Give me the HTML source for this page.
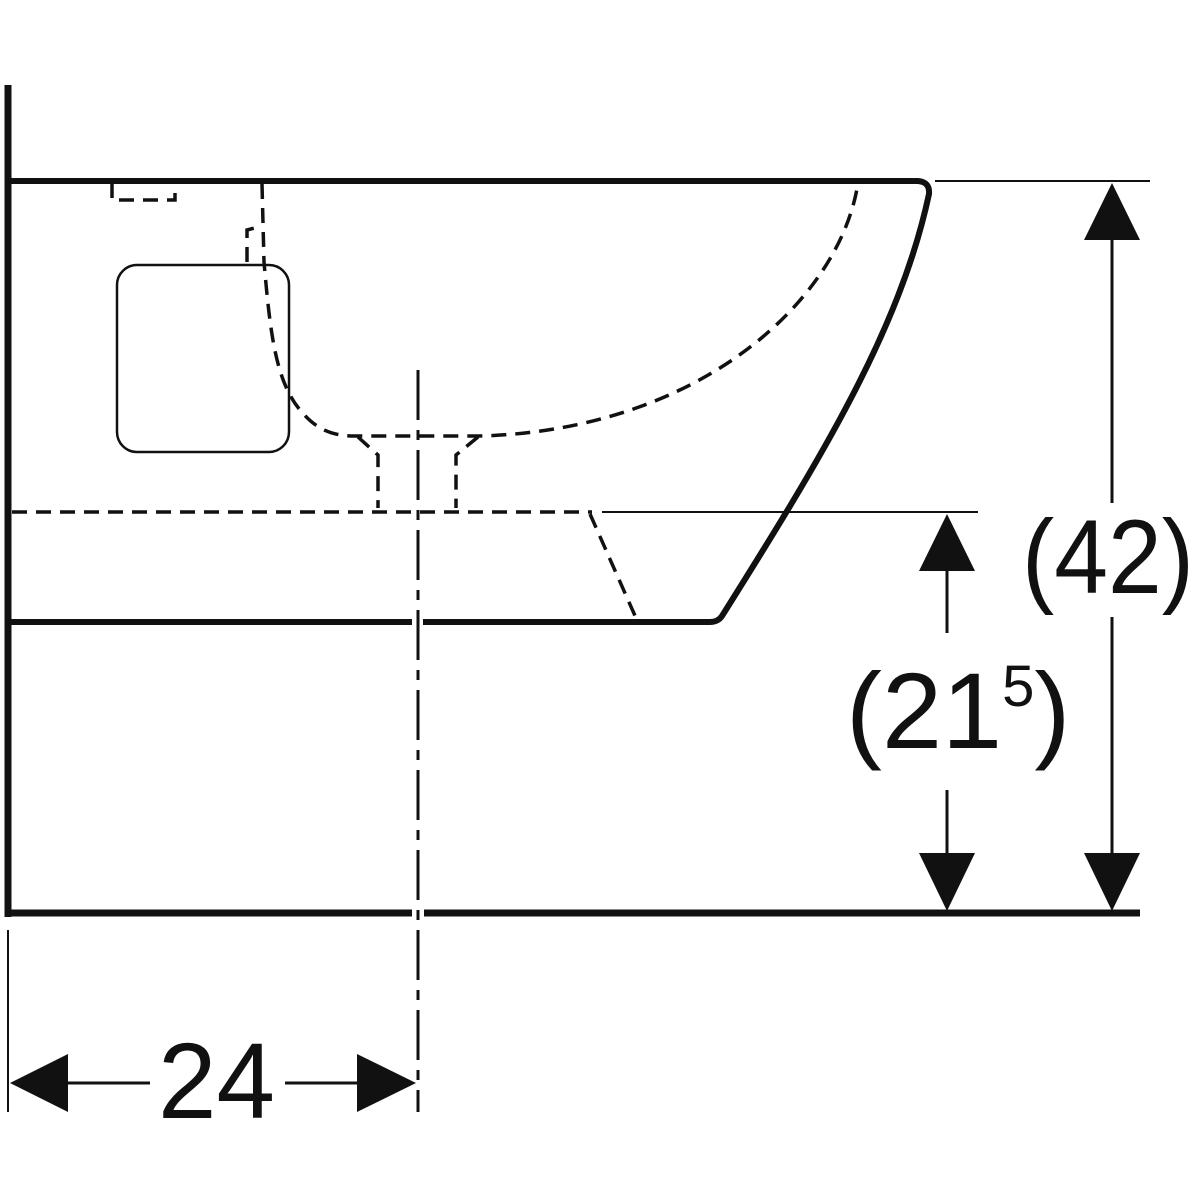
<!DOCTYPE html>
<html><head><meta charset="utf-8"><style>
html,body{margin:0;padding:0;background:#fff;}
svg{display:block;}
text{font-family:"Liberation Sans",Arial,sans-serif;fill:#111;}
</style></head><body>
<svg width="1200" height="1200" viewBox="0 0 1200 1200" xmlns="http://www.w3.org/2000/svg">
<g stroke="#111" fill="none" stroke-linecap="butt">
<line x1="8" y1="85" x2="8" y2="917" stroke-width="7"/>
<path d="M8,181 L918,181 Q930,182 929,194 C900,330 820,460 722,616 Q718,622 710,622 L423,622" stroke-width="6"/>
<line x1="8" y1="622" x2="412" y2="622" stroke-width="6"/>
<line x1="8" y1="913" x2="412" y2="913" stroke-width="7"/>
<line x1="424" y1="913" x2="1140" y2="913" stroke-width="7"/>
<line x1="935" y1="181" x2="1150" y2="181" stroke-width="2"/>
<line x1="602" y1="512" x2="978" y2="512" stroke-width="2"/>
<g stroke-width="3.5" stroke-dasharray="15 9">
<line x1="12" y1="512" x2="592" y2="512"/>
<line x1="590" y1="514" x2="636" y2="618"/>
<path d="M112,183 L112,200 L175,200 L175,183"/>
<path d="M247,262 L247,230 L262,226"/>
<path d="M262,184 L264,262 C270,330 275,380 300,410 C315,428 330,436 355,436 L480,436 C700,430 840,300 858,183"/>
<path d="M358,437 L378,455 L378,508"/>
<path d="M478,437 L456,455 L456,508"/>
</g>
<line x1="418" y1="370" x2="418" y2="1112" stroke-width="3" stroke-dasharray="50 10 10 10"/>
<rect x="117" y="265" width="172" height="187" rx="20" stroke-width="2.5"/>
<line x1="1112" y1="230" x2="1112" y2="503" stroke-width="3"/>
<line x1="1112" y1="617" x2="1112" y2="860" stroke-width="3"/>
<line x1="947" y1="560" x2="947" y2="633" stroke-width="3"/>
<line x1="947" y1="790" x2="947" y2="860" stroke-width="3"/>
<line x1="8" y1="930" x2="8" y2="1112" stroke-width="2"/>
<line x1="60" y1="1083" x2="150" y2="1083" stroke-width="3"/>
<line x1="285" y1="1083" x2="365" y2="1083" stroke-width="3"/>
</g>
<g fill="#111">
<polygon points="1112,183 1084,240 1140,240"/>
<polygon points="1112,911 1084,853 1140,853"/>
<polygon points="947,514 919,571 975,571"/>
<polygon points="947,911 919,853 975,853"/>
<polygon points="10,1083 68,1054 68,1112"/>
<polygon points="416,1083 357,1054 357,1112"/>
</g>
<text x="1022" y="593" font-size="105" textLength="172" lengthAdjust="spacingAndGlyphs">(42)</text>
<text x="846" y="748" font-size="108">(<tspan>21</tspan><tspan font-size="58" dy="-42">5</tspan><tspan dy="42">)</tspan></text>
<text x="158" y="1118" font-size="108" textLength="117" lengthAdjust="spacingAndGlyphs">24</text>
</svg>
</body></html>
